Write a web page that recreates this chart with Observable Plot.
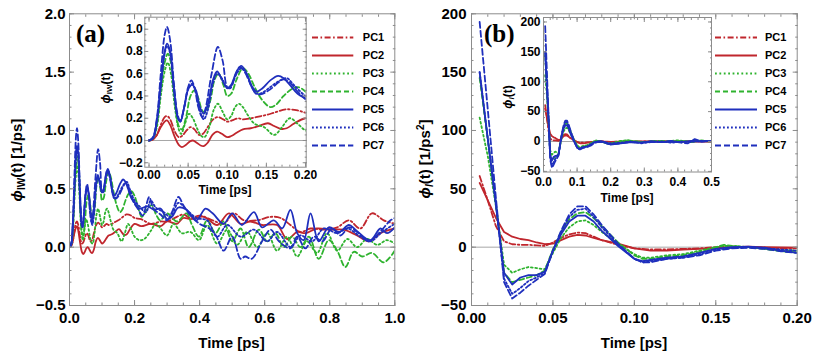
<!DOCTYPE html>
<html><head><meta charset="utf-8">
<script src="https://cdn.jsdelivr.net/npm/d3@7"></script>
<script src="https://cdn.jsdelivr.net/npm/@observablehq/plot@0.6"></script>
<style>
body{margin:0;background:#fff;}
#chart{position:relative;width:817px;height:353px;overflow:hidden;background:#fff;font-family:'Liberation Sans',Arial,sans-serif;}
#chart svg{position:absolute;}
.t{position:absolute;font-weight:bold;white-space:nowrap;color:#000;line-height:1;}
.rot{transform:translate(-50%,-50%) rotate(-90deg);}
.pl{font-family:'Liberation Serif','Times New Roman',serif;font-size:25px;}
</style></head>
<body><div id="chart"></div>
<script>
// ---------- series names & styles ----------
const names = ["PC1","PC2","PC3","PC4","PC5","PC6","PC7"];
const red = "#c0262d", green = "#2fb32f", blue = "#1f2fbd";
const colors = {PC1:red, PC2:red, PC3:green, PC4:green, PC5:blue, PC6:blue, PC7:blue};
const dashes = {PC1:"6,2.5,1.6,2.5", PC2:null, PC3:"1.8,2.6", PC4:"5,3", PC5:null, PC6:"1.8,2.2", PC7:"6,3"};

// ---------- panel (a): phi_IW(t), [time ps, value 1/ps] ----------
const pc1_iw = [[0,0],[0.005,0.01],[0.01,0.05],[0.015,0.14],[0.02,0.21],[0.023,0.22],[0.027,0.19],[0.033,0.08],[0.038,0.03],[0.042,0.04],[0.048,0.09],[0.053,0.12],[0.058,0.1],[0.064,0.05],[0.069,0.06],[0.075,0.12],[0.082,0.19],[0.088,0.21],[0.095,0.19],[0.1,0.17],[0.106,0.18],[0.114,0.2],[0.12,0.19],[0.13,0.2],[0.14,0.215],[0.15,0.23],[0.16,0.25],[0.175,0.28],[0.19,0.27],[0.2,0.25],[0.22,0.24],[0.25,0.2],[0.28,0.22],[0.3,0.22],[0.33,0.26],[0.35,0.28],[0.372,0.25],[0.4,0.27],[0.44,0.23],[0.474,0.2],[0.505,0.29],[0.536,0.23],[0.577,0.23],[0.618,0.26],[0.649,0.25],[0.679,0.19],[0.71,0.13],[0.741,0.16],[0.782,0.15],[0.823,0.17],[0.859,0.23],[0.894,0.16],[0.93,0.29],[0.966,0.23],[1.0,0.2]];
const pc2_iw = [[0,0],[0.005,0.01],[0.01,0.05],[0.015,0.12],[0.02,0.17],[0.023,0.18],[0.027,0.14],[0.033,0.03],[0.038,-0.04],[0.042,-0.06],[0.047,-0.04],[0.052,-0.01],[0.056,0.0],[0.061,-0.02],[0.066,-0.045],[0.07,-0.05],[0.075,-0.02],[0.081,0.05],[0.087,0.08],[0.093,0.06],[0.1,0.03],[0.105,0.04],[0.112,0.07],[0.12,0.1],[0.13,0.11],[0.14,0.13],[0.152,0.155],[0.16,0.13],[0.168,0.105],[0.176,0.11],[0.185,0.15],[0.2,0.2],[0.22,0.18],[0.25,0.2],[0.28,0.18],[0.3,0.22],[0.33,0.2],[0.35,0.25],[0.372,0.24],[0.413,0.26],[0.454,0.19],[0.49,0.29],[0.526,0.2],[0.556,0.22],[0.592,0.19],[0.638,0.19],[0.669,0.07],[0.7,0.13],[0.725,0.12],[0.761,0.16],[0.802,0.15],[0.843,0.15],[0.884,0.1],[0.92,0.05],[0.956,0.12],[1.0,0.16]];
const pc3_iw = [[0,0],[0.005,0.02],[0.01,0.12],[0.015,0.4],[0.02,0.62],[0.024,0.7],[0.028,0.6],[0.033,0.3],[0.038,0.1],[0.041,0.06],[0.046,0.15],[0.051,0.24],[0.056,0.2],[0.062,0.1],[0.067,0.04],[0.071,0.03],[0.077,0.12],[0.083,0.28],[0.088,0.33],[0.094,0.26],[0.1,0.19],[0.105,0.22],[0.11,0.3],[0.115,0.33],[0.12,0.3],[0.127,0.22],[0.135,0.15],[0.147,0.12],[0.16,0.05],[0.17,0.12],[0.18,0.2],[0.19,0.15],[0.2,0.09],[0.215,0.06],[0.23,0.07],[0.25,0.14],[0.265,0.2],[0.28,0.16],[0.3,0.1],[0.32,0.2],[0.345,0.12],[0.372,0.13],[0.398,0.06],[0.423,0.19],[0.454,0.03],[0.485,0.15],[0.515,0.02],[0.546,0.13],[0.577,0.0],[0.608,0.12],[0.638,-0.03],[0.669,0.09],[0.7,-0.08],[0.73,0.05],[0.761,-0.05],[0.792,0.12],[0.823,-0.03],[0.854,0.07],[0.884,0.0],[0.915,0.07],[0.946,0.02],[0.976,0.06],[1.0,0.03]];
const pc4_iw = [[0,0],[0.005,0.02],[0.01,0.15],[0.015,0.45],[0.02,0.7],[0.024,0.78],[0.028,0.7],[0.033,0.35],[0.038,0.13],[0.042,0.1],[0.047,0.2],[0.053,0.4],[0.058,0.45],[0.063,0.38],[0.068,0.27],[0.072,0.25],[0.078,0.35],[0.084,0.55],[0.089,0.6],[0.095,0.5],[0.1,0.4],[0.105,0.42],[0.112,0.55],[0.12,0.65],[0.127,0.6],[0.135,0.48],[0.145,0.36],[0.155,0.3],[0.162,0.32],[0.172,0.4],[0.182,0.46],[0.19,0.48],[0.2,0.44],[0.21,0.35],[0.222,0.26],[0.24,0.33],[0.253,0.36],[0.266,0.28],[0.279,0.23],[0.3,0.29],[0.33,0.22],[0.36,0.29],[0.375,0.2],[0.398,0.09],[0.423,0.23],[0.449,0.12],[0.474,0.22],[0.5,0.05],[0.526,0.16],[0.551,0.0],[0.582,0.15],[0.608,0.05],[0.633,0.12],[0.659,0.0],[0.684,0.09],[0.71,0.0],[0.736,0.09],[0.766,-0.1],[0.797,0.06],[0.823,-0.03],[0.848,-0.17],[0.874,-0.04],[0.9,-0.08],[0.93,-0.05],[0.966,-0.13],[1.0,-0.03]];
const pc5_iw = [[0,0],[0.005,0.02],[0.01,0.18],[0.015,0.5],[0.02,0.8],[0.023,0.87],[0.027,0.8],[0.032,0.45],[0.037,0.2],[0.04,0.17],[0.045,0.3],[0.05,0.46],[0.055,0.5],[0.06,0.45],[0.065,0.3],[0.07,0.24],[0.075,0.32],[0.082,0.55],[0.087,0.62],[0.093,0.55],[0.1,0.47],[0.105,0.5],[0.112,0.62],[0.118,0.67],[0.125,0.6],[0.132,0.48],[0.138,0.44],[0.145,0.47],[0.155,0.54],[0.165,0.58],[0.172,0.56],[0.18,0.5],[0.19,0.42],[0.2,0.38],[0.215,0.33],[0.24,0.35],[0.26,0.32],[0.28,0.33],[0.3,0.24],[0.315,0.26],[0.335,0.34],[0.36,0.32],[0.39,0.23],[0.418,0.33],[0.44,0.29],[0.474,0.2],[0.5,0.29],[0.53,0.19],[0.567,0.3],[0.592,0.17],[0.628,0.23],[0.654,0.16],[0.679,0.32],[0.7,0.12],[0.72,0.06],[0.741,0.29],[0.766,0.05],[0.797,0.17],[0.828,0.13],[0.859,0.19],[0.879,0.15],[0.925,0.06],[0.956,0.16],[0.976,0.12],[1.0,0.17]];
const pc6_iw = [[0,0],[0.005,0.02],[0.01,0.17],[0.015,0.48],[0.02,0.78],[0.023,0.85],[0.027,0.78],[0.032,0.45],[0.037,0.2],[0.04,0.17],[0.045,0.3],[0.05,0.46],[0.055,0.51],[0.06,0.43],[0.065,0.27],[0.07,0.19],[0.075,0.27],[0.082,0.52],[0.087,0.6],[0.093,0.56],[0.1,0.47],[0.105,0.49],[0.112,0.6],[0.118,0.65],[0.125,0.59],[0.132,0.47],[0.138,0.42],[0.145,0.43],[0.155,0.48],[0.165,0.53],[0.176,0.56],[0.185,0.5],[0.2,0.4],[0.215,0.35],[0.235,0.3],[0.25,0.4],[0.265,0.34],[0.29,0.3],[0.31,0.26],[0.335,0.38],[0.36,0.32],[0.39,0.25],[0.423,0.23],[0.454,0.09],[0.485,0.19],[0.526,0.09],[0.567,0.15],[0.608,0.05],[0.638,0.13],[0.68,0.0],[0.71,0.1],[0.746,0.05],[0.782,0.16],[0.823,0.12],[0.854,0.16],[0.894,0.09],[0.925,0.05],[0.961,0.13],[1.0,0.2]];
const pc7_iw = [[0,0],[0.005,0.03],[0.01,0.2],[0.015,0.6],[0.02,0.95],[0.023,1.02],[0.027,0.9],[0.032,0.5],[0.037,0.22],[0.04,0.18],[0.045,0.3],[0.05,0.48],[0.054,0.54],[0.058,0.48],[0.063,0.3],[0.068,0.21],[0.072,0.28],[0.08,0.6],[0.088,0.84],[0.094,0.72],[0.1,0.48],[0.104,0.47],[0.11,0.58],[0.116,0.66],[0.122,0.62],[0.13,0.5],[0.137,0.42],[0.145,0.42],[0.155,0.46],[0.165,0.52],[0.172,0.55],[0.18,0.52],[0.19,0.44],[0.2,0.37],[0.21,0.33],[0.225,0.27],[0.235,0.35],[0.245,0.43],[0.258,0.33],[0.28,0.28],[0.3,0.23],[0.315,0.3],[0.335,0.43],[0.35,0.36],[0.372,0.27],[0.4,0.2],[0.43,0.16],[0.45,0.1],[0.474,-0.03],[0.5,0.09],[0.526,-0.1],[0.54,-0.08],[0.56,-0.1],[0.592,0.05],[0.618,0.15],[0.644,0.05],[0.679,-0.01],[0.7,0.09],[0.725,-0.01],[0.751,0.09],[0.777,0.05],[0.807,0.16],[0.833,0.1],[0.859,0.17],[0.884,0.13],[0.92,0.05],[0.951,0.12],[0.987,0.23],[1.0,0.25]];

// ---------- panel (b): phi_l(t), [time ps, value 1/ps^2] ----------
const pc1_l = [[0.005,61],[0.01,40],[0.015,18],[0.02,5],[0.025,2.5],[0.03,2],[0.035,2],[0.04,1.5],[0.045,1],[0.05,4],[0.055,8],[0.06,11],[0.065,12.5],[0.07,12],[0.075,9],[0.08,6],[0.09,2],[0.1,-1],[0.11,-2],[0.12,-2],[0.13,-1.5],[0.14,-1],[0.15,0],[0.16,0.5],[0.17,0],[0.18,-0.5],[0.19,-1],[0.2,-1],[0.23,0],[0.26,-0.5],[0.3,0],[0.35,0.5],[0.4,0],[0.45,0.5],[0.5,0]];
const pc2_l = [[0.005,55],[0.01,40],[0.015,25],[0.02,13],[0.025,9],[0.03,7],[0.035,6],[0.04,4],[0.045,2.5],[0.05,3],[0.055,6],[0.06,9],[0.065,10.5],[0.07,10],[0.075,8],[0.08,6],[0.09,3],[0.1,-1],[0.11,-3],[0.12,-3],[0.13,-2],[0.14,-1.5],[0.15,-1],[0.16,0],[0.17,0.5],[0.18,0],[0.19,-0.3],[0.2,-0.5],[0.25,0],[0.3,0],[0.35,0],[0.4,0],[0.45,0],[0.5,0]];
const pc3_l = [[0.005,111],[0.01,78],[0.015,35],[0.02,-15],[0.025,-22],[0.03,-19],[0.035,-17],[0.04,-18],[0.045,-19],[0.05,-5],[0.055,8],[0.06,17],[0.065,22],[0.07,23],[0.075,19],[0.08,13],[0.09,3],[0.1,-6],[0.105,-9],[0.11,-9],[0.12,-7],[0.13,-6],[0.14,-3],[0.15,0],[0.155,1],[0.16,1],[0.17,0],[0.18,-1.5],[0.19,-2.5],[0.2,-3],[0.23,1],[0.25,2],[0.27,0],[0.3,-1],[0.33,1],[0.36,0],[0.4,2],[0.43,0],[0.46,1],[0.5,0]];
const pc4_l = [[0.005,145],[0.01,92],[0.015,37],[0.02,-22],[0.025,-30],[0.03,-28],[0.035,-26],[0.04,-24],[0.045,-20],[0.05,-2],[0.055,13],[0.06,24],[0.065,29],[0.07,30],[0.075,25],[0.08,18],[0.09,4],[0.1,-7],[0.105,-10],[0.11,-10],[0.12,-8],[0.13,-7],[0.14,-4],[0.15,0],[0.155,2],[0.16,1],[0.17,0],[0.18,-1.5],[0.19,-3.5],[0.2,-4.5],[0.23,0],[0.25,2],[0.28,0],[0.31,-1],[0.34,1],[0.38,0],[0.41,1],[0.44,-1],[0.47,2],[0.5,0]];
const pc5_l = [[0.005,150],[0.01,93],[0.015,36],[0.02,-22],[0.025,-32],[0.03,-26],[0.035,-24],[0.04,-24],[0.045,-21],[0.05,-3],[0.055,11],[0.06,22],[0.065,27],[0.07,27],[0.075,22],[0.08,14],[0.09,1],[0.1,-10],[0.105,-12],[0.11,-11],[0.12,-9],[0.13,-8],[0.14,-5],[0.15,-1.5],[0.16,0],[0.17,0.5],[0.18,-0.5],[0.19,-3],[0.2,-5],[0.23,-3],[0.26,-1],[0.29,-2],[0.32,0],[0.35,-1],[0.38,0],[0.41,-1],[0.44,1],[0.47,0],[0.5,1]];
const pc6_l = [[0.005,150],[0.01,93],[0.015,37],[0.02,-27],[0.025,-40],[0.03,-35],[0.035,-29],[0.04,-26],[0.045,-22],[0.05,-3],[0.055,13],[0.06,26],[0.065,32],[0.07,33],[0.075,26],[0.08,17],[0.09,2],[0.1,-10],[0.105,-13],[0.11,-12],[0.12,-10],[0.13,-9],[0.14,-6],[0.15,-2],[0.16,-0.5],[0.17,0],[0.18,-1],[0.19,-2],[0.2,-3],[0.23,-2],[0.26,0],[0.29,-3],[0.32,-1],[0.35,0],[0.38,-2],[0.41,0],[0.44,-1],[0.47,1],[0.5,0]];
const pc7_l = [[0.005,193],[0.01,118],[0.015,42],[0.02,-30],[0.025,-44],[0.03,-39],[0.035,-33],[0.04,-28],[0.045,-23],[0.05,-3],[0.055,14],[0.06,28],[0.065,35],[0.07,35],[0.075,28],[0.08,19],[0.09,3],[0.1,-10],[0.105,-13],[0.11,-13],[0.12,-10],[0.13,-9],[0.14,-7],[0.15,-3],[0.16,-1],[0.17,-0.5],[0.18,-1.5],[0.19,-3.5],[0.2,-5],[0.23,-3],[0.26,-1],[0.29,-2],[0.32,0],[0.35,-1],[0.38,1],[0.41,-2],[0.43,-3],[0.45,4],[0.47,0],[0.5,1]];

// ---------- tick labels ----------
const ticksA_x = [0, 0.2, 0.4, 0.6, 0.8, 1.0];
const ticksA_y = [-0.5, 0, 0.5, 1.0, 1.5, 2.0];
const ticksAi_x = [0, 0.05, 0.1, 0.15, 0.2];
const ticksAi_y = [-0.2, 0, 0.2, 0.4, 0.6, 0.8, 1.0];
const ticksB_x = [0, 0.05, 0.1, 0.15, 0.2];
const ticksB_y = [-50, 0, 50, 100, 150, 200];
const ticksBi_x = [0, 0.1, 0.2, 0.3, 0.4, 0.5];
const ticksBi_y = [-50, 0, 50, 100, 150, 200];

const dataA = {PC1:pc1_iw, PC2:pc2_iw, PC3:pc3_iw, PC4:pc4_iw, PC5:pc5_iw, PC6:pc6_iw, PC7:pc7_iw};
const dataB = {PC1:pc1_l, PC2:pc2_l, PC3:pc3_l, PC4:pc4_l, PC5:pc5_l, PC6:pc6_l, PC7:pc7_l};

const frameGray = "#8c8c8c";
const chart = document.getElementById("chart");
const baseStyle = "background:transparent;overflow:visible;font-family:'Liberation Sans',Arial,sans-serif;font-weight:bold;";

function minor(domain, step) {
  const [a, b] = domain;
  return d3.range(Math.ceil(a / step - 1e-9), Math.floor(b / step + 1e-9) + 1).map(i => +(i * step).toFixed(6));
}

function panel(c) {
  const [L, T, W, H] = c.box;
  const [fx0, fx1, fy0, fy1] = c.frame;
  const tc = {stroke: frameGray, strokeWidth: 1, label: null, tickFormat: () => ""};
  const xm = minor(c.xDomain, c.xMinor), ym = minor(c.yDomain, c.yMinor);
  const marks = [
    Plot.ruleY([0], {x1: c.zeroX[0], x2: c.zeroX[1], stroke: "#a6a6a6", strokeWidth: 1}),
    ...names.map(n => Plot.line(c.data[n], {x: d => d[0], y: d => d[1], stroke: colors[n], strokeWidth: 1.8, strokeDasharray: dashes[n], curve: c.curve, clip: true})),
    Plot.frame({stroke: frameGray, strokeWidth: 1}),
    Plot.axisX(c.xMajor, {...tc, anchor: "bottom", tickSize: c.tl, dy: -c.tl}),
    Plot.axisX(xm, {...tc, anchor: "bottom", tickSize: c.ml, dy: -c.ml}),
    Plot.axisX(c.xMajor, {...tc, anchor: "top", tickSize: c.tl, dy: c.tl}),
    Plot.axisX(xm, {...tc, anchor: "top", tickSize: c.ml, dy: c.ml}),
    Plot.axisY(c.yMajor, {...tc, anchor: "left", tickSize: c.tl, dx: c.tl}),
    Plot.axisY(ym, {...tc, anchor: "left", tickSize: c.ml, dx: c.ml}),
    Plot.axisY(c.yMajor, {...tc, anchor: "right", tickSize: c.tl, dx: -c.tl}),
    Plot.axisY(ym, {...tc, anchor: "right", tickSize: c.ml, dx: -c.ml}),
    Plot.axisX(c.xMajor, {anchor: "bottom", tickSize: 0, tickPadding: c.padX, tickFormat: d3.format(c.xFmt), fontSize: c.fs, fontWeight: "bold", fill: "#000", label: null}),
    Plot.axisY(c.yMajor, {anchor: "left", tickSize: 0, tickPadding: c.padY, tickFormat: d3.format(c.yFmt), fontSize: c.fs, fontWeight: "bold", fill: "#000", label: null})
  ];
  const svg = Plot.plot({
    width: W, height: H,
    marginLeft: fx0 - L, marginRight: L + W - fx1, marginTop: fy0 - T, marginBottom: T + H - fy1,
    x: {domain: c.xDomain}, y: {domain: c.yDomain},
    style: baseStyle, marks
  });
  svg.style.left = L + "px"; svg.style.top = T + "px";
  chart.appendChild(svg);
}

function legend(c) {
  const [L, T, W, H] = c.box;
  const marks = [
    ...names.map(n => Plot.ruleY([n], {stroke: colors[n], strokeWidth: 1.8, strokeDasharray: dashes[n]})),
    Plot.text(names, {y: d => d, frameAnchor: "right", dx: c.dx, textAnchor: "start", fontSize: 11, fontWeight: "bold", fill: "#000"})
  ];
  const svg = Plot.plot({
    width: W, height: H, marginLeft: 0, marginRight: W - c.lineW, marginTop: 0, marginBottom: 0,
    x: {domain: [0, 1], axis: null},
    y: {type: "point", domain: names, range: c.rows, axis: null},
    style: baseStyle, marks
  });
  svg.style.left = L + "px"; svg.style.top = T + "px";
  chart.appendChild(svg);
}

// main (a)
panel({box: [0, 0, 410, 353], frame: [69, 394.3, 13.3, 305], xDomain: [0, 1], yDomain: [-0.5, 2],
  xMajor: ticksA_x, yMajor: ticksA_y, xMinor: 0.05, yMinor: 0.1, xFmt: ".1f", yFmt: ".1f",
  data: dataA, curve: "catmull-rom", fs: 15, tl: 5, ml: 2.5, padX: 7, padY: 4, zeroX: [0, 1]});
// inset (a)
panel({box: [90, 0, 230, 215], frame: [144.3, 305.7, 16.7, 166.7], xDomain: [-0.0054, 0.2009], yDomain: [-0.24, 1.108],
  xMajor: ticksAi_x, yMajor: ticksAi_y, xMinor: 0.01, yMinor: 0.05, xFmt: ".2f", yFmt: ".1f",
  data: dataA, curve: "catmull-rom", fs: 12, tl: 4, ml: 2, padX: 3, padY: 2, zeroX: [0, 0.2009]});
// main (b)
panel({box: [410, 0, 407, 353], frame: [471, 796.7, 13.3, 305], xDomain: [0, 0.2], yDomain: [-50, 200],
  xMajor: ticksB_x, yMajor: ticksB_y, xMinor: 0.01, yMinor: 10, xFmt: ".2f", yFmt: "d",
  data: dataB, curve: "linear", fs: 15, tl: 5, ml: 2.5, padX: 7, padY: 5, zeroX: [0, 0.2]});
// inset (b)
panel({box: [480, 0, 250, 215], frame: [543, 711, 17, 171.5], xDomain: [0, 0.5], yDomain: [-51, 207.5],
  xMajor: ticksBi_x, yMajor: ticksBi_y, xMinor: 0.02, yMinor: 10, xFmt: ".1f", yFmt: "d",
  data: dataB, curve: "linear", fs: 12, tl: 4, ml: 2, padX: 5, padY: 3, zeroX: [0, 0.5]});

legend({box: [312, 0, 80, 170], lineW: 41.3, dx: 9, rows: [27.5, 153.5]});
legend({box: [715, 0, 90, 170], lineW: 42, dx: 7.5, rows: [28, 154]});

// ---------- text labels ----------
function addText(html, cls, style) {
  const d = document.createElement("div");
  d.className = "t " + cls; d.innerHTML = html; d.setAttribute("style", style);
  chart.appendChild(d);
}
addText("(a)", "pl", "left:76px;top:20.5px;");
addText("(b)", "pl", "left:484px;top:20.5px;");
addText("Time [ps]", "", "font-size:15px;left:231.5px;top:335px;transform:translateX(-50%);");
addText("Time [ps]", "", "font-size:15px;left:634px;top:335px;transform:translateX(-50%);");
addText("Time [ps]", "", "font-size:12px;left:225px;top:183.5px;transform:translateX(-50%);");
addText("Time [ps]", "", "font-size:12px;left:627px;top:192px;transform:translateX(-50%);");
addText("<i>ϕ</i><sub style='font-size:10px;vertical-align:-3px'>IW</sub>(t) [1/ps]", "rot", "font-size:15px;left:18px;top:160px;");
addText("<i>ϕ</i><sub style='font-size:10px;vertical-align:-3px'><i>l</i></sub>(t) [1/ps<sup style='font-size:10px;vertical-align:6px'>2</sup>]", "rot", "font-size:15px;left:425px;top:159px;");
addText("<i>ϕ</i><sub style='font-size:8px;vertical-align:-2px'>IW</sub>(t)", "rot", "font-size:12px;left:107px;top:88px;");
addText("<i>ϕ</i><sub style='font-size:8px;vertical-align:-2px'><i>l</i></sub>(t)", "rot", "font-size:12px;left:509px;top:97px;");
</script>
</body></html>
